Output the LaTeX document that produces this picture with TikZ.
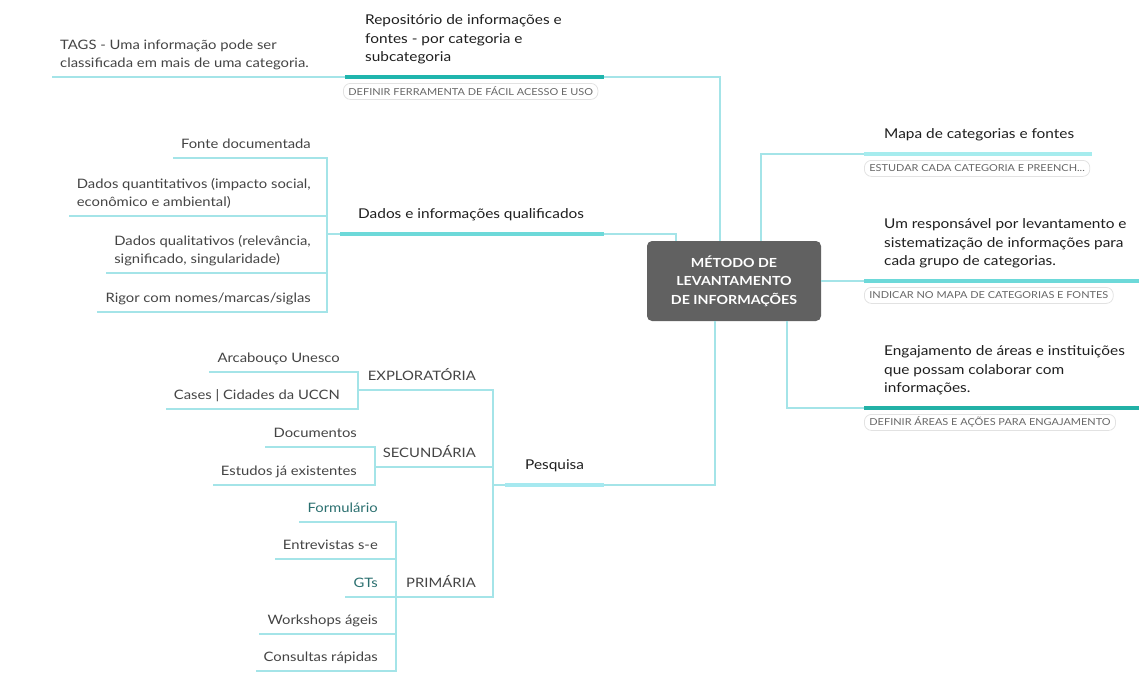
\documentclass[tikz,border=0pt]{standalone}
\usepackage{fontspec}
\setmainfont{Lato}[FakeStretch=1.14]
\usetikzlibrary{calc}
\definecolor{thinc}{HTML}{A4E4E8}
\definecolor{barA}{HTML}{1FB5AD}
\definecolor{barB}{HTML}{6DD9D9}
\definecolor{barC}{HTML}{A6ECEE}
\definecolor{barD}{HTML}{22B1A6}
\definecolor{barE}{HTML}{A6E9F0}
\definecolor{rootc}{HTML}{616161}
\definecolor{maintxt}{HTML}{1E1E1E}
\definecolor{childtxt}{HTML}{444444}
\definecolor{tealtxt}{HTML}{2A6F6F}
\definecolor{labtxt}{HTML}{666666}
\definecolor{labbord}{HTML}{E2E2E2}
\begin{document}
\begin{tikzpicture}[x=1pt,y=-1pt,
  conn/.style={draw=thinc,line width=1.2pt},
  bar/.style={line width=4pt},
  rootbox/.style={fill=rootc,rounded corners=5pt,minimum width=174pt,minimum height=80pt,text=white,font=\fontsize{12.5}{18.5}\selectfont\bfseries,align=center,inner sep=0pt},
  topic/.style={inner xsep=0pt,inner ysep=0pt,text depth=15pt,anchor=south west,align=left,text=maintxt,font=\fontsize{13.5}{18.5}\selectfont},
  child/.style={inner xsep=8pt,inner ysep=0pt,text depth=9pt,align=left,text=childtxt,font=\fontsize{13}{18}\selectfont},
  labbox/.style={draw=labbord,line width=0.8pt,rounded corners=7pt,anchor=north west,minimum height=16pt,inner xsep=5pt,inner ysep=0pt,text=labtxt,font=\fontsize{9.6}{11}\selectfont}
]
\useasboundingbox (0,0) rectangle (1139,688);

% root
\node[rootbox] (root) at (734,281) {MÉTODO DE\\LEVANTAMENTO\\DE INFORMAÇÕES};

% coordinates of bars
\coordinate (repoL) at (345,77); \coordinate (repoR) at (604,77);
\coordinate (dadosL) at (340,234); \coordinate (dadosR) at (604,234);
\coordinate (mapaL) at (864,154); \coordinate (mapaR) at (1092,154);
\coordinate (respL) at (864,281); \coordinate (respR) at (1139,281);
\coordinate (engL) at (864,408); \coordinate (engR) at (1139,408);
\coordinate (pesqL) at (505,485); \coordinate (pesqR) at (604,485);
\coordinate (dJ) at (327,234);
\coordinate (pJ) at (493,485);
\coordinate (explJ) at (358,390);
\coordinate (secJ) at (375,467);
\coordinate (primJ) at (396,597);

% main topics
\node[topic] (repo) at (365,77) {Repositório de informações e\\fontes - por categoria e\\subcategoria};
\node[topic] (dados) at (358,234) {Dados e informações qualificados};
\node[topic] (mapa) at (884,154) {Mapa de categorias e fontes};
\node[topic] (resp) at (884,281) {Um responsável por levantamento e\\sistematização de informações para\\cada grupo de categorias.};
\node[topic] (eng) at (884,408) {Engajamento de áreas e instituições\\que possam colaborar com\\informações.};
\node[topic] (pesq) at (525,485) {Pesquisa};

% labels
\node[labbox] (lab1) at (343,83) {DEFINIR FERRAMENTA DE FÁCIL ACESSO E USO};
\node[labbox] (lab2) at (864,160) {ESTUDAR CADA CATEGORIA E PREENCH...};
\node[labbox] (lab3) at (864,287) {INDICAR NO MAPA DE CATEGORIAS E FONTES};
\node[labbox] (lab4) at (864,414) {DEFINIR ÁREAS E AÇÕES PARA ENGAJAMENTO};

% root connectors
\draw[conn] ([xshift=-14pt]root.north) |- (repoR);
\draw[conn] ([xshift=-58pt]root.north) |- (dadosR);
\draw[conn] ([xshift=27pt]root.north) |- (mapaL);
\draw[conn] (root.east) -- (respL);
\draw[conn] ([xshift=53pt]root.south) |- (engL);
\draw[conn] ([xshift=-19pt]root.south) |- (pesqR);

% bars
\draw[bar,barA] (repoL) -- (repoR);
\draw[bar,barB] (dadosL) -- (dadosR);
\draw[bar,barC] (mapaL) -- (mapaR);
\draw[bar,barB] (respL) -- (respR);
\draw[bar,barD] (engL) -- (engR);
\draw[bar,barE] (pesqL) -- (pesqR);

% TAGS
\node[child,anchor=south west] (tags) at (52,77) {TAGS - Uma informação pode ser\\classificada em mais de uma categoria.};
\draw[conn] (tags.south west) -- (repoL);

% dados children
\node[child,anchor=south east] (fonte) at (319,158) {Fonte documentada};
\node[child,anchor=south east] (quant) at (319,216) {Dados quantitativos (impacto social,\\econômico e ambiental)};
\node[child,anchor=south east] (qual) at (319,273) {Dados qualitativos (relevância,\\significado, singularidade)};
\node[child,anchor=south east] (rigor) at (319,312) {Rigor com nomes/marcas/siglas};
\draw[conn] (dadosL) -- (dJ);
\draw[conn] (dJ) |- (fonte.south west);
\draw[conn] (dJ) |- (quant.south west);
\draw[conn] (dJ) |- (qual.south west);
\draw[conn] (dJ) |- (rigor.south west);

% pesquisa
\draw[conn] (pesqL) -- (pJ);
\node[child,anchor=south east] (expl) at (484,390) {EXPLORATÓRIA};
\node[child,anchor=south east] (secund) at (484,467) {SECUNDÁRIA};
\node[child,anchor=south east] (prim) at (484,597) {PRIMÁRIA};
\draw[conn] (pJ) |- (explJ);
\draw[conn] (pJ) |- (secJ);
\draw[conn] (pJ) |- (primJ);

\node[child,anchor=south east] (arc) at (348,372) {Arcabouço Unesco};
\node[child,anchor=south east] (cases) at (348,409) {Cases | Cidades da UCCN};
\draw[conn] (explJ) |- (arc.south west);
\draw[conn] (explJ) |- (cases.south west);

\node[child,anchor=south east] (docs) at (365,447) {Documentos};
\node[child,anchor=south east] (estudos) at (365,485) {Estudos já existentes};
\draw[conn] (secJ) |- (docs.south west);
\draw[conn] (secJ) |- (estudos.south west);

\node[child,anchor=south east,text=tealtxt] (form) at (386,522) {Formulário};
\node[child,anchor=south east] (entrev) at (386,559) {Entrevistas s-e};
\node[child,anchor=south east,text=tealtxt] (gts) at (386,597) {GTs};
\node[child,anchor=south east] (work) at (386,634) {Workshops ágeis};
\node[child,anchor=south east] (cons) at (386,671) {Consultas rápidas};
\draw[conn] (primJ) |- (form.south west);
\draw[conn] (primJ) |- (entrev.south west);
\draw[conn] (primJ) |- (gts.south west);
\draw[conn] (primJ) |- (work.south west);
\draw[conn] (primJ) |- (cons.south west);
\end{tikzpicture}
\end{document}
